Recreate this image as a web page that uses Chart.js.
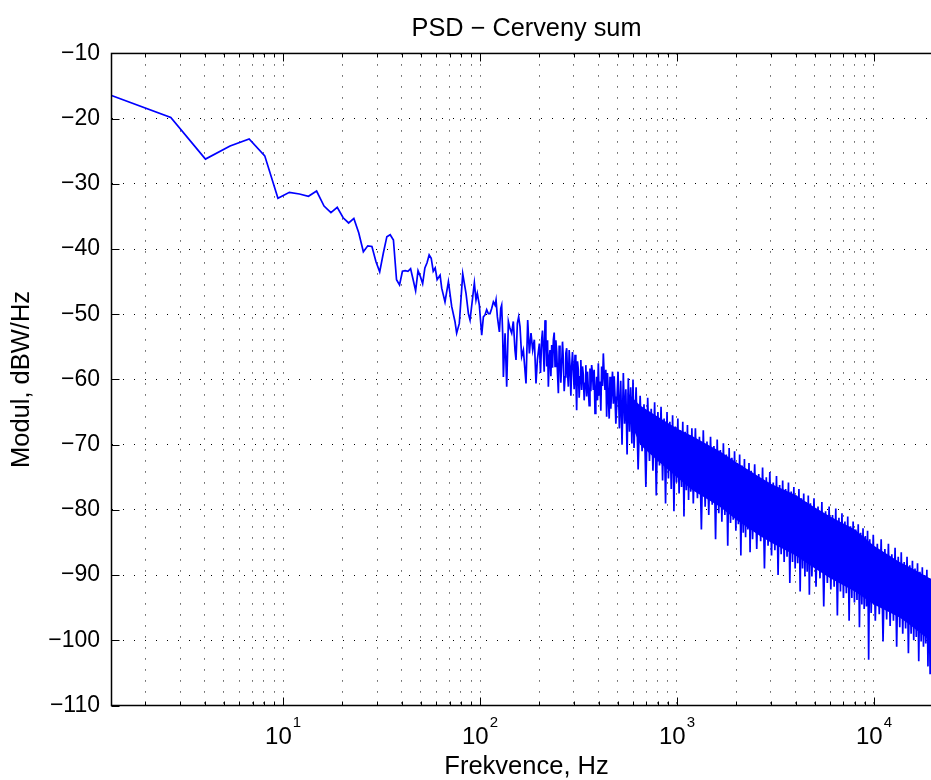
<!DOCTYPE html>
<html>
<head>
<meta charset="utf-8">
<title>PSD - Cerveny sum</title>
<script src="https://cdn.jsdelivr.net/npm/chart.js@4.4.1/dist/chart.umd.min.js"></script>
<style>
  html, body { margin: 0; padding: 0; background: #fff; overflow: hidden; }
  #wrap { width: 931px; height: 780px; overflow: hidden; }
  canvas { display: block; }
</style>
</head>
<body>
<div id="wrap"><canvas id="psd" width="960" height="780"></canvas></div>
<script>
const FONT = '"Liberation Sans", Arial, Helvetica, sans-serif';

// single FFT bins at the low end (Hz / dBW/Hz)
const lowFreq = [1.346, 2.692, 4.037, 5.383, 6.729, 8.075, 9.421, 10.77, 12.11, 13.46,
  14.80, 16.15, 17.50, 18.84, 20.19, 21.53, 22.88, 24.22, 25.57, 26.92,
  28.26, 29.61, 30.95, 32.30, 33.65, 34.99, 36.34, 37.68, 39.03, 40.37,
  41.72, 43.07, 44.41, 45.76, 47.10, 48.45, 49.80, 51.14, 52.49, 53.83,
  55.18, 56.52, 57.87, 59.22, 60.56];
const lowPsd = [-16.45, -19.8, -26.2, -24.2, -23.1, -25.7, -32.2, -31.3, -31.55, -31.9,
  -31.1, -33.4, -34.4, -33.6, -35.2, -36.0, -35.3, -37.5, -40.4, -39.5,
  -39.6, -41.9, -43.5, -40.6, -38.1, -37.8, -38.6, -44.7, -45.5, -43.4,
  -43.3, -43.4, -43.0, -44.7, -46.4, -43.3, -44.2, -45.3, -42.9, -42.1,
  -40.9, -41.4, -43.4, -42.9, -44.7];

// 60 - 500 Hz
const midFreq = [62.7, 63.9, 66.4, 69.1, 71.8, 74.6, 76.1, 78.5, 81.7, 84.9,
  87.3, 89.0, 92.5, 93.6, 95.4, 96.9, 99.2, 102.0, 104.0, 106.0,
  108.1, 110.2, 112.4, 114.6, 116.9, 119.2, 120.6, 122.5, 125.4, 127.4,
  128.8, 130.3, 131.4, 134.0, 136.6, 139.3, 142.0, 144.8, 147.6, 150.5,
  152.3, 154.7, 157.1, 159.6, 162.7, 166.0, 171.2, 174.6, 178.1, 181.5,
  185.1, 188.7, 192.4, 195.5, 200.1, 205.6, 209.7, 213.8, 218.1, 222.3,
  226.7, 231.2, 235.7, 240.4, 245.1, 249.9, 254.7, 259.8, 264.9, 270.1,
  275.4, 280.8, 286.4, 292.0, 297.7, 303.6, 309.5, 315.6, 321.9, 328.1,
  334.6, 341.2, 347.9, 354.8, 361.6, 368.8, 376.0, 383.5, 391.0, 398.7,
  406.6, 414.5, 422.7, 431.0, 439.5, 448.2, 457.0, 466.0, 475.3, 484.5,
  494.1];
const midPsd = [-44.0, -46.0, -48.1, -45.0, -48.8, -51.1, -52.9, -51.4, -43.8, -46.8,
  -49.9, -50.9, -46.5, -45.2, -47.8, -46.8, -48.6, -53.2, -50.4, -50.1,
  -49.3, -49.9, -49.9, -49.1, -48.1, -48.6, -47.8, -50.4, -52.7, -49.1,
  -48.6, -52.9, -59.6, -52.9, -61.1, -51.1, -52.2, -52.9, -51.1, -55.5,
  -57.0, -51.4, -50.4, -51.9, -56.5, -55.5, -60.6, -50.9, -56.0, -52.9,
  -55.5, -53.9, -60.6, -57.0, -54.5, -53.9, -55.5, -50.9, -58.0, -61.1,
  -55.5, -54.7, -53.9, -58.0, -55.7, -62.1, -56.5, -57.5, -57.0, -59.6,
  -55.2, -61.1, -58.0, -58.0, -58.5, -56.2, -64.7, -58.5, -59.6, -61.6,
  -59.3, -60.6, -62.6, -61.6, -58.3, -57.8, -61.6, -65.2, -59.6, -57.5,
  -60.3, -58.0, -56.0, -61.6, -65.7, -62.6, -59.6, -61.6, -63.7, -62.6,
  -64.2];

// extra bins between the ones above, where the trace gets crowded (200 - 500 Hz)
const fillFreq = [202.8, 207.6, 211.7, 216.0, 220.2, 224.5, 229.0, 233.4, 238.0, 242.7,
  247.5, 252.3, 257.2, 262.3, 267.5, 272.7, 278.1, 283.6, 289.2, 294.8,
  300.6, 306.5, 312.5, 318.7, 325.0, 331.3, 337.9, 344.5, 351.3, 358.2,
  365.2, 372.4, 379.7, 387.2, 394.8, 402.6, 410.5, 418.6, 426.8, 435.2,
  443.8, 452.6, 461.5, 470.6, 479.9, 489.3];
const fillPsd = [-59.0, -52.5, -58.8, -53.5, -54.0, -56.8, -59.5, -58.2, -52.8, -54.0,
  -59.2, -54.8, -60.5, -54.2, -61.8, -56.0, -59.0, -55.5, -62.5, -55.8,
  -61.5, -59.8, -57.2, -62.8, -57.0, -58.0, -63.2, -57.8, -58.8, -64.0,
  -61.8, -59.0, -58.5, -62.0, -63.2, -62.5, -64.8, -61.0, -59.2, -58.5,
  -59.0, -66.0, -64.5, -58.8, -59.5, -66.8];

// dense part: peaks and dips of the noisy trace
const highFreq = [502, 510, 518, 526, 534, 542, 550, 558, 566, 574, 582, 590, 598,
  605, 620, 635, 650, 665, 680, 695, 710, 725, 740,
  755, 770, 785, 800, 815, 830, 845, 860, 875, 890,
  905, 920, 935, 950, 965, 980, 995, 1010, 1025, 1040,
  1055, 1070, 1085, 1100, 1115, 1130, 1145, 1160, 1175, 1190,
  1210, 1240, 1270, 1300, 1330, 1360, 1390, 1420, 1450, 1480,
  1510, 1540, 1570, 1600, 1630, 1660, 1690, 1720, 1750, 1780,
  1810, 1840, 1870, 1900, 1930, 1960, 1990, 2020, 2050, 2080,
  2110, 2140, 2170, 2200, 2230, 2260, 2290, 2320, 2350, 2380,
  2420, 2480, 2540, 2600, 2660, 2720, 2780, 2840, 2900, 2960,
  3020, 3080, 3140, 3200, 3260, 3320, 3380, 3440, 3500, 3560,
  3620, 3680, 3740, 3800, 3860, 3920, 3980, 4040, 4100, 4160,
  4220, 4280, 4340, 4400, 4460, 4520, 4580, 4640, 4700, 4760,
  4840, 4960, 5080, 5200, 5320, 5440, 5560, 5680, 5800, 5920,
  6040, 6160, 6280, 6400, 6520, 6640, 6760, 6880, 7000, 7120,
  7240, 7360, 7480, 7600, 7720, 7840, 7960, 8080, 8200, 8320,
  8440, 8560, 8680, 8800, 8920, 9040, 9160, 9280, 9400, 9520,
  9680, 9920, 10160, 10400, 10640, 10880, 11120, 11360, 11600, 11840,
  12080, 12320, 12560, 12800, 13040, 13280, 13520, 13760, 14000, 14240,
  14480, 14720, 14960, 15200, 15440, 15680, 15920, 16160, 16400, 16640,
  16880, 17120, 17360, 17600, 17840, 18080, 18320, 18560, 18800, 19040,
  19280, 19760, 20240, 20720, 21200, 21680, 22050];
const highPsd = [-58.8, -67.5, -60.2, -70.0, -59.0, -66.8, -61.5, -71.5, -59.8, -68.0, -61.2, -69.8, -60.0,
  -70.5, -61.2, -73.8, -62.5, -71.0, -63.8, -76.5, -62.8, -72.5, -64.5,
  -74.0, -63.5, -77.8, -65.0, -73.2, -64.2, -75.5, -66.0, -79.0, -65.0,
  -75.2, -66.5, -76.8, -65.5, -80.2, -67.2, -75.8, -66.0, -77.5, -67.8,
  -76.5, -66.5, -81.0, -68.0, -77.0, -67.0, -78.5, -68.5, -77.2, -67.5,
  -79.0, -67.5, -78.2, -68.8, -83.0, -67.8, -79.5, -69.5, -80.8, -68.8,
  -79.2, -70.2, -84.5, -69.2, -80.5, -70.8, -81.8, -69.8, -80.8, -71.5,
  -85.5, -70.5, -82.0, -72.0, -81.5, -71.0, -83.2, -72.8, -82.2, -71.5,
  -87.0, -73.2, -83.5, -72.2, -84.2, -73.8, -83.0, -72.8, -86.5, -74.0,
  -84.5, -73.0, -86.0, -74.5, -84.8, -73.5, -89.0, -75.0, -85.5, -74.2,
  -87.0, -75.8, -86.2, -74.8, -90.0, -76.2, -86.8, -75.5, -88.0, -76.8,
  -87.2, -75.8, -91.2, -77.2, -88.0, -76.5, -89.0, -77.8, -88.2, -76.8,
  -92.5, -78.2, -89.0, -77.5, -90.2, -78.8, -89.5, -77.8, -93.0, -79.0,
  -90.2, -78.2, -91.8, -79.5, -90.5, -78.8, -94.8, -80.2, -91.2, -79.5,
  -92.2, -80.8, -91.8, -79.8, -96.2, -81.2, -92.5, -80.5, -93.5, -81.8,
  -92.8, -81.0, -97.0, -82.5, -93.5, -81.8, -94.2, -83.0, -93.8, -82.2,
  -98.0, -83.5, -94.5, -82.8, -95.2, -84.0, -94.8, -83.2, -103.0, -84.5,
  -95.8, -83.8, -97.0, -85.2, -96.0, -84.5, -100.2, -86.0, -96.8, -85.2,
  -97.8, -86.8, -97.0, -85.8, -101.0, -87.2, -98.0, -86.5, -99.0, -88.0,
  -98.2, -87.2, -102.0, -88.5, -99.0, -87.8, -100.0, -89.0, -99.5, -88.2,
  -103.2, -89.5, -100.2, -88.8, -101.0, -90.0, -100.5, -89.2, -104.0, -90.5,
  -105.2, -89.8, -101.5, -90.8, -103.0, -90.2, -101.0];

// solid core of the noise band, where the trace overlaps itself
const bandFreq = [560, 650, 800, 1000, 1200, 1650, 2000, 2640, 3000, 4000, 4800, 6000, 8000, 10000, 13500, 15000, 19200, 22050];
const bandTop = [-62.0, -64.0, -65.7, -67.5, -68.7, -71.0, -72.7, -75.0, -76.0, -77.7, -79.3, -81.0, -83.0, -85.5, -88.0, -88.7, -90.5, -91.0];
const bandBottom = [-65.5, -70.0, -72.5, -75.0, -77.0, -79.5, -81.5, -84.0, -85.0, -87.0, -88.6, -90.5, -92.5, -94.5, -96.5, -97.5, -100.0, -100.5];

// axis ticks
const xTickValues = [2, 3, 4, 5, 6, 7, 8, 9, 10, 20, 30, 40, 50, 60, 70, 80, 90,
  100, 200, 300, 400, 500, 600, 700, 800, 900, 1000, 2000, 3000, 4000, 5000, 6000, 7000, 8000, 9000,
  10000, 20000];
const xMajor = [10, 100, 1000, 10000];
const xExponents = ['1', '2', '3', '4'];
const yTicks = [-110, -100, -90, -80, -70, -60, -50, -40, -30, -20, -10];

const toPoints = (xs, ys) => xs.map((x, i) => ({ x: x, y: ys[i] }));
const psdPoints = toPoints(lowFreq, lowPsd)
  .concat(toPoints(midFreq, midPsd), toPoints(fillFreq, fillPsd), toPoints(highFreq, highPsd))
  .sort((a, b) => a.x - b.x);

// matlab style box: inward ticks and 10^n labels
const axesBox = {
  id: 'axesBox',
  afterDraw(chart) {
    const { ctx, chartArea: a, scales: { x, y } } = chart;
    ctx.save();
    ctx.strokeStyle = '#000';
    ctx.lineWidth = 1;
    ctx.beginPath();
    xTickValues.forEach((v) => {
      const px = Math.round(x.getPixelForValue(v)) + 0.5;
      const len = xMajor.includes(v) ? 8 : 4;
      ctx.moveTo(px, a.bottom);
      ctx.lineTo(px, a.bottom - len);
      ctx.moveTo(px, a.top);
      ctx.lineTo(px, a.top + len);
    });
    yTicks.forEach((v) => {
      const py = Math.round(y.getPixelForValue(v)) + 0.5;
      ctx.moveTo(a.left, py);
      ctx.lineTo(a.left + 8, py);
      ctx.moveTo(a.right, py);
      ctx.lineTo(a.right - 8, py);
    });
    ctx.stroke();
    ctx.lineWidth = 1.5;
    ctx.strokeRect(a.left, a.top, a.right - a.left, a.bottom - a.top);

    ctx.fillStyle = '#000';
    ctx.textAlign = 'left';
    ctx.textBaseline = 'alphabetic';
    xMajor.forEach((v, i) => {
      const px = x.getPixelForValue(v);
      ctx.font = '24px ' + FONT;
      const wBase = ctx.measureText('10').width;
      ctx.font = '15px ' + FONT;
      const wExp = ctx.measureText(xExponents[i]).width;
      const left = px - (wBase + 1 + wExp) / 2;
      ctx.font = '24px ' + FONT;
      ctx.fillText('10', left, a.bottom + 38);
      ctx.font = '15px ' + FONT;
      ctx.fillText(xExponents[i], left + wBase + 1, a.bottom + 21);
    });
    ctx.restore();
  }
};

new Chart(document.getElementById('psd'), {
  type: 'line',
  data: {
    datasets: [
      { label: 'band top', data: toPoints(bandFreq, bandTop), borderWidth: 0, borderColor: 'rgba(0,0,0,0)', pointRadius: 0, fill: false },
      { label: 'band bottom', data: toPoints(bandFreq, bandBottom), borderWidth: 0, borderColor: 'rgba(0,0,0,0)', backgroundColor: '#0000ff', pointRadius: 0, fill: '-1' },
      { label: 'PSD', data: psdPoints, borderColor: '#0000ff', borderWidth: 1.7, pointRadius: 0, tension: 0, fill: false }
    ]
  },
  options: {
    responsive: false,
    animation: false,
    devicePixelRatio: 1,
    layout: { padding: { left: 0, right: 18.4, top: 0, bottom: 0 } },
    scales: {
      x: {
        type: 'logarithmic',
        min: lowFreq[0],
        max: 22050,
        afterBuildTicks: (s) => { s.ticks = xTickValues.map((v) => ({ value: v })); },
        afterFit: (s) => { s.height = 74.5; },
        ticks: { display: false },
        grid: { color: '#000', lineWidth: 1, drawTicks: false },
        border: { display: false, dash: [1, 10] },
        title: { display: true, text: 'Frekvence, Hz', color: '#000', font: { family: FONT, size: 25.5 }, padding: { top: 0, bottom: -2 } }
      },
      y: {
        min: -110,
        max: -10,
        afterBuildTicks: (s) => { s.ticks = yTicks.map((v) => ({ value: v })); },
        afterFit: (s) => { s.width = 111.5; },
        ticks: {
          color: '#000',
          padding: 11.5,
          font: { family: FONT, size: 23 },
          callback: (v) => String(v).replace('-', '\u2212')
        },
        grid: { color: '#000', lineWidth: 1, drawTicks: false },
        border: { display: false, dash: [1, 10] },
        title: { display: true, text: 'Modul, dBW/Hz', color: '#000', font: { family: FONT, size: 25.5 }, padding: { top: 7, bottom: 0 } }
      }
    },
    plugins: {
      legend: { display: false },
      tooltip: { enabled: false },
      title: {
        display: true,
        text: 'PSD \u2212 Cerveny sum',
        color: '#000',
        fullSize: false,
        font: { family: FONT, size: 25.3, weight: 'normal' },
        padding: { top: 14, bottom: 9.1 }
      }
    }
  },
  plugins: [axesBox]
});
</script>
</body>
</html>
